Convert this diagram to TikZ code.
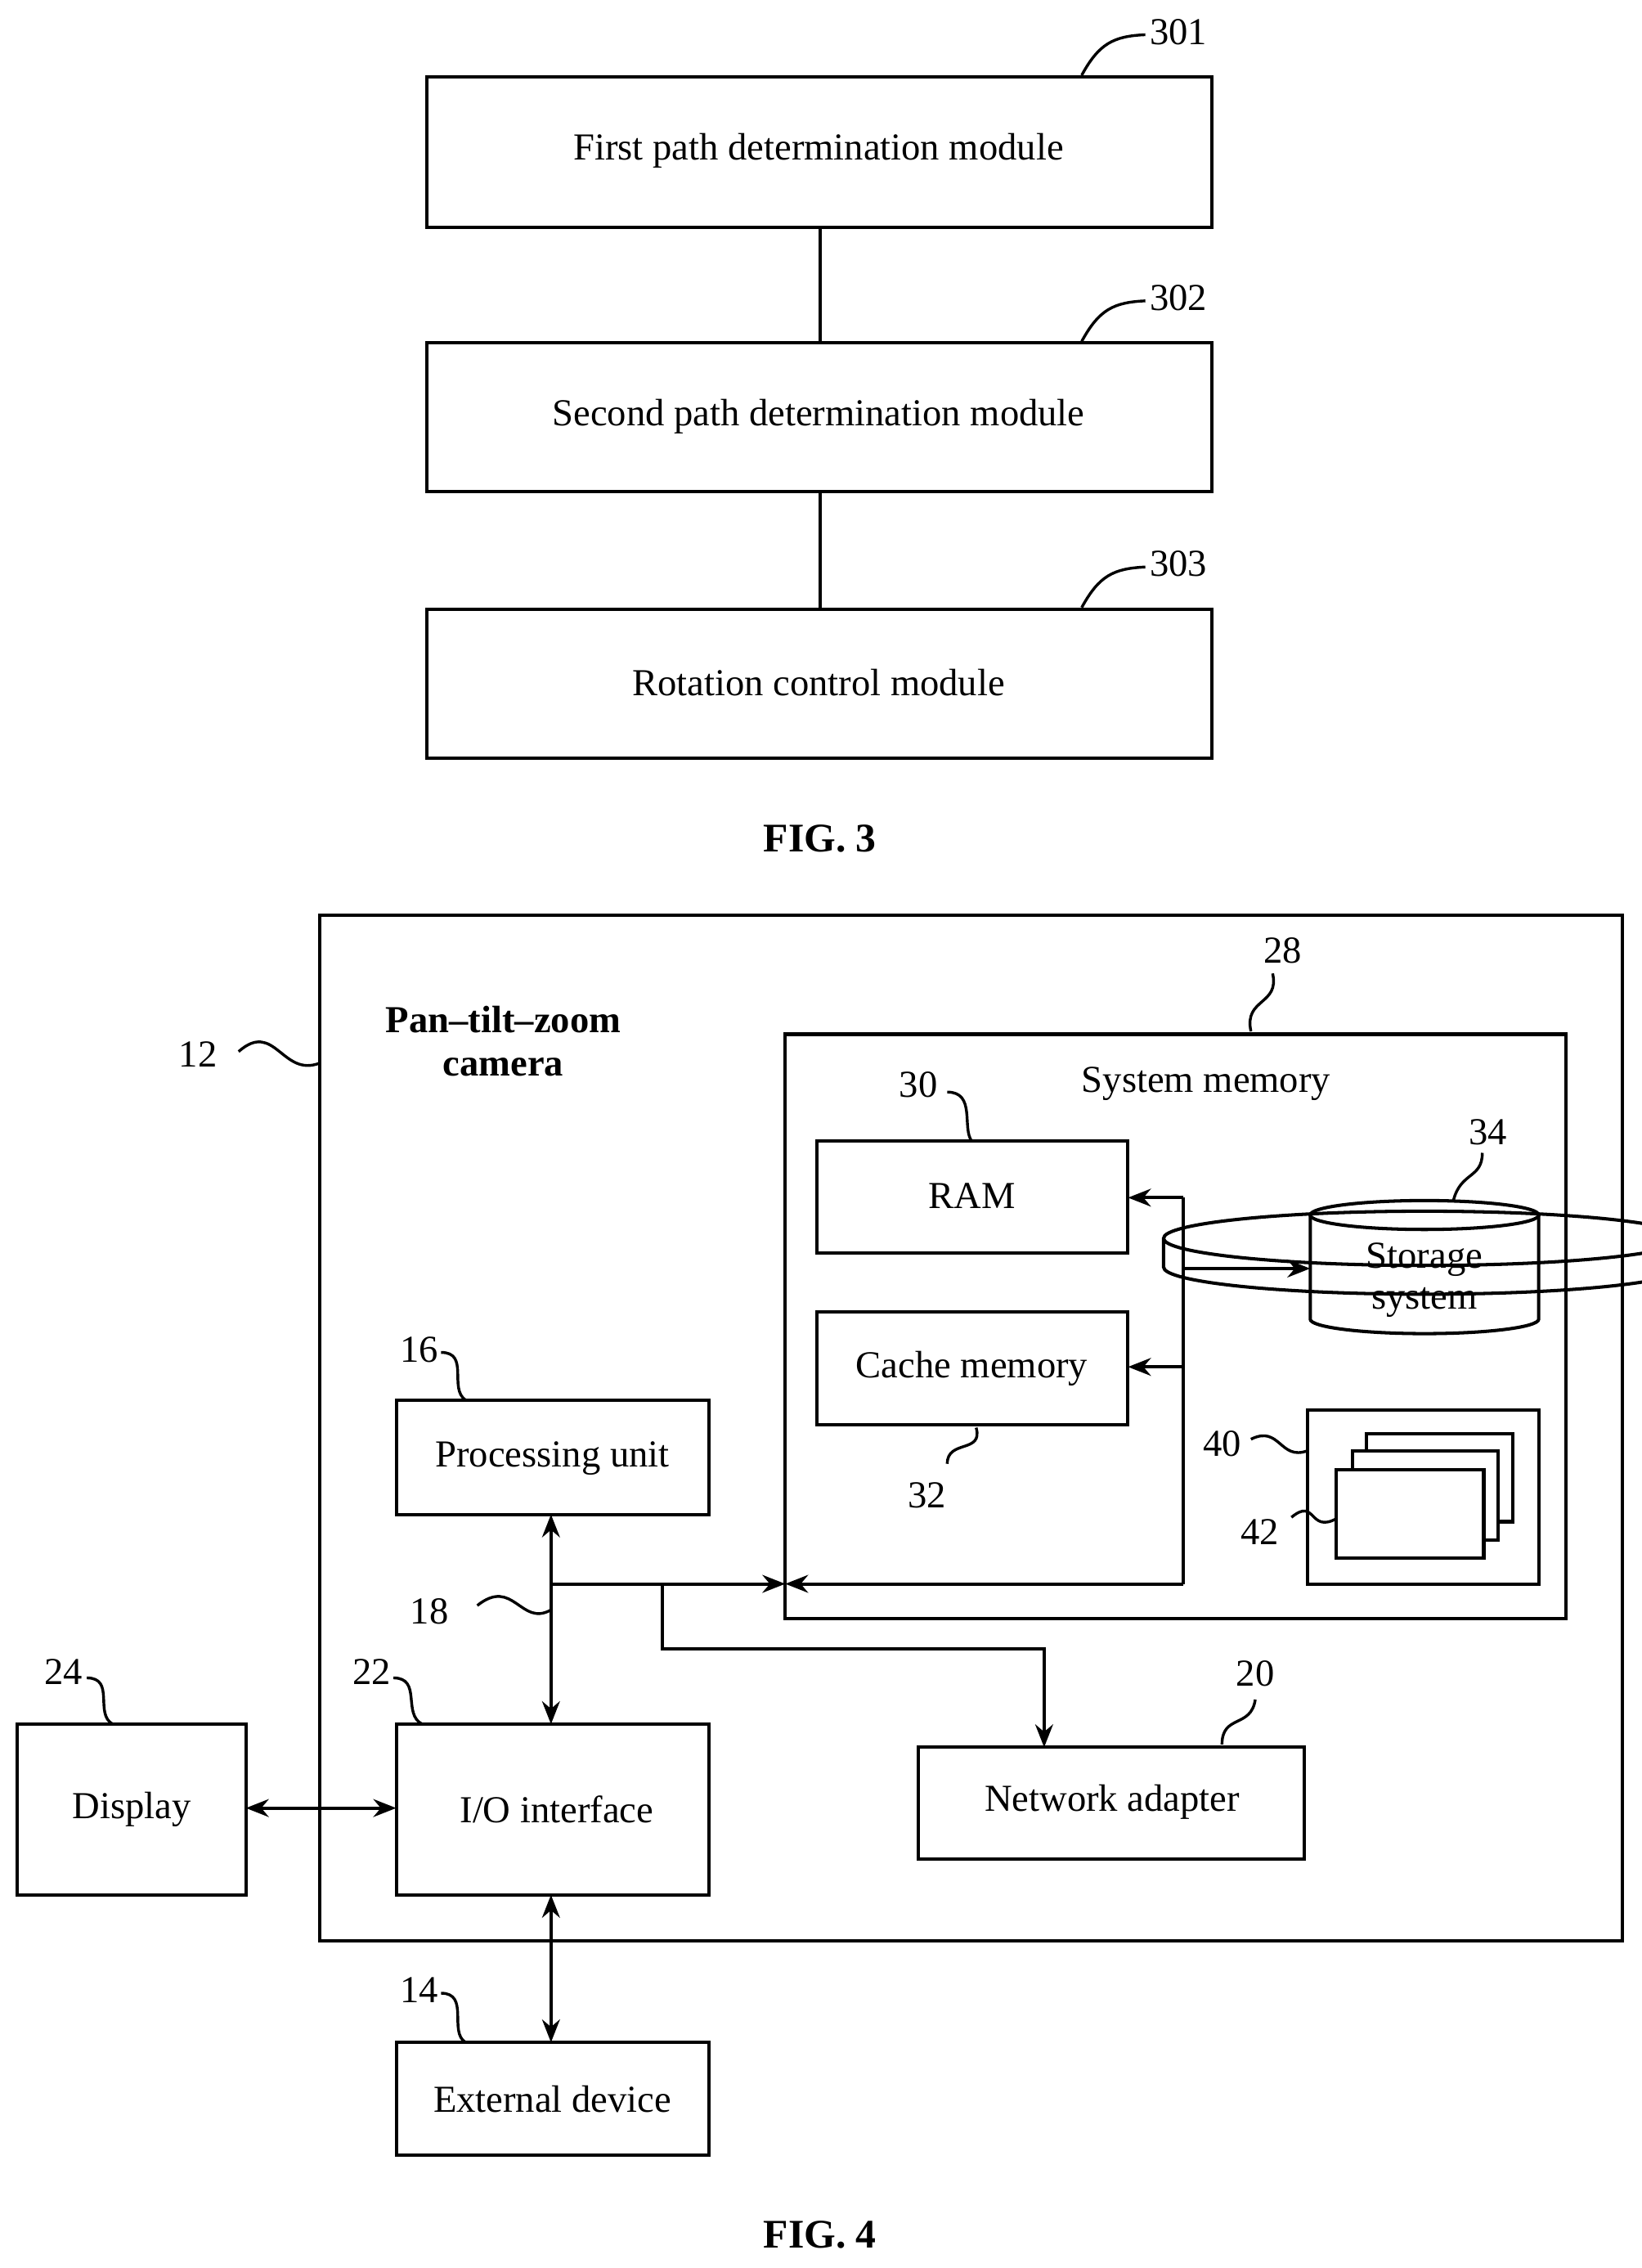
\documentclass[tikz,border=0pt]{standalone}
\usepackage{fontspec}
\setmainfont{Liberation Serif}
\usetikzlibrary{shapes.geometric,arrows.meta}
\tikzset{
  box/.style={draw, line width=1.3pt, minimum width=#1},
  tag/.style={font=\fontsize{15}{18}\selectfont},
  arr/.style={line width=1.3pt, -{Stealth[length=9pt,width=7pt]}},
  darr/.style={line width=1.3pt, {Stealth[length=9pt,width=7pt]}-{Stealth[length=9pt,width=7pt]}},
  squig/.style={line width=1.1pt},
}
\newcommand{\squiggle}[2]{\draw[squig] (#1) .. controls ($(#1)!0.5!(#2)+(-6,-6)$) and ($(#1)!0.5!(#2)+(6,6)$) .. (#2);}
\usetikzlibrary{calc}
\begin{document}
\begin{tikzpicture}[x=0.02cm, y=-0.02cm, font=\fontsize{15}{18}\selectfont, line width=1.3pt]
    \useasboundingbox (0,0) rectangle (1135,1568);
    % FIG. 3
    \draw (295,53) rectangle (838,157);
    \node (m301) at (566,104) {First path determination module};
    \draw (295,237) rectangle (838,340);
    \node (m302) at (566,288) {Second path determination module};
    \draw (295,421) rectangle (838,524);
    \node (m303) at (566,472) {Rotation control module};
    \draw (567,157) -- (567,237);
    \draw (567,340) -- (567,421);
    \node[tag] (l301) at (815,22) {301};
    \node[tag] (l302) at (815,206) {302};
    \node[tag] (l303) at (815,390) {303};
    \draw[squig] (748,52) .. controls (760,30) and (770,25) .. (792,24);
    \draw[squig] (748,236) .. controls (760,214) and (770,209) .. (792,208);
    \draw[squig] (748,420) .. controls (760,398) and (770,393) .. (792,392);
    \node[font=\fontsize{16}{19}\selectfont\bfseries] (fig3) at (567,580) {FIG. 3};

    % FIG. 4
    \draw (221,633) rectangle (1122,1342);
    \node[align=center, font=\fontsize{15}{17}\selectfont\bfseries] (ptz) at (348,720) {Pan--tilt--zoom\\camera};
    \node[tag] (l12) at (137,729) {12};
    \draw[squig] (165,727) .. controls (190,705) and (195,745) .. (221,735);

    \draw (543,715) rectangle (1083,1119);
    \node (sysmem) at (834,749) {System memory};
    \node[tag] (l28) at (887,657) {28};
    \draw[squig] (865,713) .. controls (860,690) and (885,695) .. (880,673);

    \draw (565,789) rectangle (780,866);
    \node (ram) at (672,827) {RAM};
    \node[tag] (l30) at (635,750) {30};
    \draw[squig] (655,755) .. controls (675,755) and (665,780) .. (672,789);

    \draw (565,907) rectangle (780,985);
    \node (cache) at (672,946) {Cache memory};
    \node[tag] (l32) at (641,1034) {32};
    \draw[squig] (675,987) .. controls (680,1005) and (655,995) .. (655,1012);

    \node[cylinder, shape border rotate=90, draw, aspect=0.25, minimum width=158\pgflinewidth, minimum height=0pt,
          inner sep=0pt, align=center, text width=3cm] (storage) at (985,876) {};
    \draw (906,840) -- (906,912) arc[start angle=180, end angle=360, x radius=79, y radius=-10] -- (1064,840);
    \draw (985,840) ellipse [x radius=79, y radius=-10];
    \node[align=center, font=\fontsize{15}{16}\selectfont] (stor) at (985,885) {Storage\\system};
    \node[tag] (l34) at (1029,783) {34};
    \draw[squig] (1005,830) .. controls (1010,810) and (1025,815) .. (1025,797);

    \draw (904,975) rectangle (1064,1095);
    \draw[fill=white] (945,991) rectangle (1046,1052);
    \draw[fill=white] (935,1003) rectangle (1036,1065);
    \draw[fill=white] (924,1016) rectangle (1026,1077);
    \node[tag] (l40) at (845,998) {40};
    \draw[squig] (865,995) .. controls (885,985) and (885,1010) .. (904,1003);
    \node[tag] (l42) at (871,1059) {42};
    \draw[squig] (893,1049) .. controls (910,1035) and (905,1060) .. (924,1050);

    \draw (274,968) rectangle (490,1047);
    \node (pu) at (382,1008) {Processing unit};
    \node[tag] (l16) at (290,933) {16};
    \draw[squig] (305,935) .. controls (325,935) and (310,960) .. (322,968);

    \draw (274,1192) rectangle (490,1310);
    \node (io) at (385,1251) {I/O interface};
    \node[tag] (l22) at (257,1156) {22};
    \draw[squig] (272,1160) .. controls (292,1160) and (278,1185) .. (292,1192);

    \draw (12,1192) rectangle (170,1310);
    \node (disp) at (91,1251) {Display};
    \node[tag] (l24) at (44,1156) {24};
    \draw[squig] (60,1160) .. controls (80,1160) and (65,1185) .. (78,1192);

    \draw (635,1208) rectangle (902,1285);
    \node (net) at (769,1246) {Network adapter};
    \node[tag] (l20) at (868,1157) {20};
    \draw[squig] (845,1206) .. controls (845,1185) and (865,1195) .. (868,1175);

    \draw (274,1412) rectangle (490,1490);
    \node (ext) at (382,1451) {External device};
    \node[tag] (l14) at (290,1376) {14};
    \draw[squig] (305,1378) .. controls (325,1378) and (310,1405) .. (322,1412);

    % connectors
    \coordinate (bus) at (381,1095);
    \draw[darr] (381,1047) -- (381,1192);
    \draw[arr] (bus) -- (543,1095);
    \draw[arr] (818,1095) -- (543,1095);
    \draw (818,1095) -- (818,828);
    \draw[arr] (818,828) -- (780,828);
    \draw[arr] (818,945) -- (780,945);
    \draw[arr] (818,877) -- (906,877);
    \draw[arr] (458,1095) -- (458,1140) -- (722,1140) -- (722,1208);
    \draw[darr] (170,1250) -- (274,1250);
    \draw[darr] (381,1310) -- (381,1412);
    \node[tag] (l18) at (297,1114) {18};
    \draw[squig] (330,1110) .. controls (355,1090) and (360,1125) .. (381,1113);

    \node[font=\fontsize{16}{19}\selectfont\bfseries] (fig4) at (567,1545) {FIG. 4};
\end{tikzpicture}
\end{document}
